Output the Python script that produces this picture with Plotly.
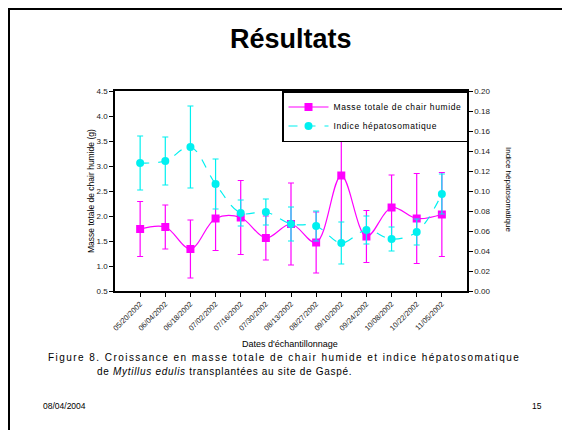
import plotly.graph_objects as go

dates = ["05/20/2002", "06/04/2002", "06/18/2002", "07/02/2002", "07/16/2002",
         "07/30/2002", "08/13/2002", "08/27/2002", "09/10/2002", "09/24/2002",
         "10/08/2002", "10/22/2002", "11/05/2002"]
masse = [1.74, 1.78, 1.34, 1.95, 1.97, 1.56, 1.84, 1.47, 2.81, 1.59, 2.17, 1.95, 2.03]
masse_err = [0.55, 0.44, 0.58, 0.64, 0.74, 0.44, 0.82, 0.61, 1.33, 0.52, 0.65, 0.90, 0.84]
indice = [0.128, 0.130, 0.144, 0.107, 0.078, 0.079, 0.067, 0.065, 0.048, 0.061, 0.052, 0.059, 0.097]
indice_err = [0.027, 0.024, 0.041, 0.025, 0.013, 0.013, 0.017, 0.015, 0.021, 0.014, 0.012, 0.013, 0.020]

left_ticks = [0.5, 1.0, 1.5, 2.0, 2.5, 3.0, 3.5, 4.0, 4.5]
right_ticks = [0.00, 0.02, 0.04, 0.06, 0.08, 0.10, 0.12, 0.14, 0.16, 0.18, 0.20]

FONT = "Liberation Sans, Arial, sans-serif"
OFF = 8  # page body margin of the html page
W, H = 570 - OFF, 430 - OFF
# plot area in (reference) page pixels
PL, PR, PT, PB = 115, 467, 91, 291
L, R, T, B = PL - OFF, PR - OFF, PT - OFF, PB - OFF

def xp(px):
    return (px - PL) / (PR - PL)

def yp(py):
    return (PB - py) / (PB - PT)

def spaced(text, px):
    return f'<span style="letter-spacing:{px}px">{text}</span>'

xs = list(range(len(dates)))
MAG = "#FF00FF"
CYA = "#00F0F0"

fig = go.Figure()
fig.add_trace(go.Scatter(
    x=xs, y=masse, name=spaced("Masse totale de chair humide", 0.6),
    mode="lines+markers",
    line=dict(color=MAG, width=1.2, shape="spline", smoothing=1.0),
    marker=dict(symbol="square", size=8, color=MAG),
    error_y=dict(type="data", array=masse_err, visible=True, color=MAG,
                 thickness=1.2, width=3),
))
fig.add_trace(go.Scatter(
    x=xs, y=indice, name=spaced("Indice hépatosomatique", 0.6), yaxis="y2",
    mode="lines+markers",
    line=dict(color=CYA, width=1.2, shape="spline", smoothing=1.0, dash="dash"),
    marker=dict(symbol="circle", size=8, color=CYA),
    error_y=dict(type="data", array=indice_err, visible=True, color=CYA,
                 thickness=1.2, width=3),
))

axis_common = dict(showgrid=False, zeroline=False, showline=True,
                   linecolor="black", linewidth=1.5,
                   ticks="outside", ticklen=4, tickcolor="black", tickwidth=1,
                   tickfont=dict(family=FONT, size=8, color="#222"))

fig.update_layout(
    width=W, height=H,
    margin=dict(l=L, r=W - R, t=T, b=H - B, pad=0, autoexpand=False),
    paper_bgcolor="white", plot_bgcolor="white",
    font=dict(family=FONT, color="black"),
    showlegend=True,
    legend=dict(x=xp(282), y=yp(91), xanchor="left", yanchor="top",
                bgcolor="white", bordercolor="black", borderwidth=1.5,
                font=dict(family=FONT, size=8.5, color="black"),
                itemwidth=40, tracegroupgap=0, itemsizing="trace"),
    xaxis=dict(axis_common, range=[-1, len(dates)], tickmode="array",
               tickvals=xs, ticktext=dates, tickangle=-45, mirror=True,
               tickfont=dict(family=FONT, size=7.5, color="#222")),
    yaxis=dict(axis_common, range=[0.5, 4.5], tickmode="array",
               tickvals=left_ticks, ticktext=[f"{v:.1f}" for v in left_ticks]),
    yaxis2=dict(axis_common, range=[0, 0.2], overlaying="y", side="right",
                tickmode="array", tickvals=right_ticks,
                ticktext=[f"{v:.2f}" for v in right_ticks]),
)

ann = []
def A(text, x, y, size, **kw):
    d = dict(text=text, x=xp(x), y=yp(y), xref="paper", yref="paper",
             xanchor="center", yanchor="middle",
             showarrow=False, font=dict(family=FONT, size=size, color="black"))
    d.update(kw)
    ann.append(d)

A("<b>Résultats</b>", 291, 39, 27)
A("Masse totale de chair humide (g)", 91, 191, 8.5, textangle=-90)
A("Indice hépatosomatique", 509, 190, 8, textangle=90)
A("Dates d'échantillonnage", 290, 344, 9)
A(spaced("Figure 8. Croissance en masse totale de chair humide et indice hépatosomatique", 1.45),
  284, 357, 10)
A(spaced("de <i>Mytillus edulis</i> transplantées au site de Gaspé.", 0.7), 224, 371, 10)
A("08/04/2004", 65, 406, 8.5)
A("15", 537, 406, 8.5)
fig.update_layout(annotations=ann)

# slide border (page px 9,9 is the first drawable pixel row/col inside the figure)
fig.add_shape(type="rect", xref="paper", yref="paper",
              x0=xp(9), y0=yp(470), x1=xp(620), y1=yp(9),
              line=dict(color="black", width=2), fillcolor="rgba(0,0,0,0)",
              layer="below")

fig.write_html("out.html")
